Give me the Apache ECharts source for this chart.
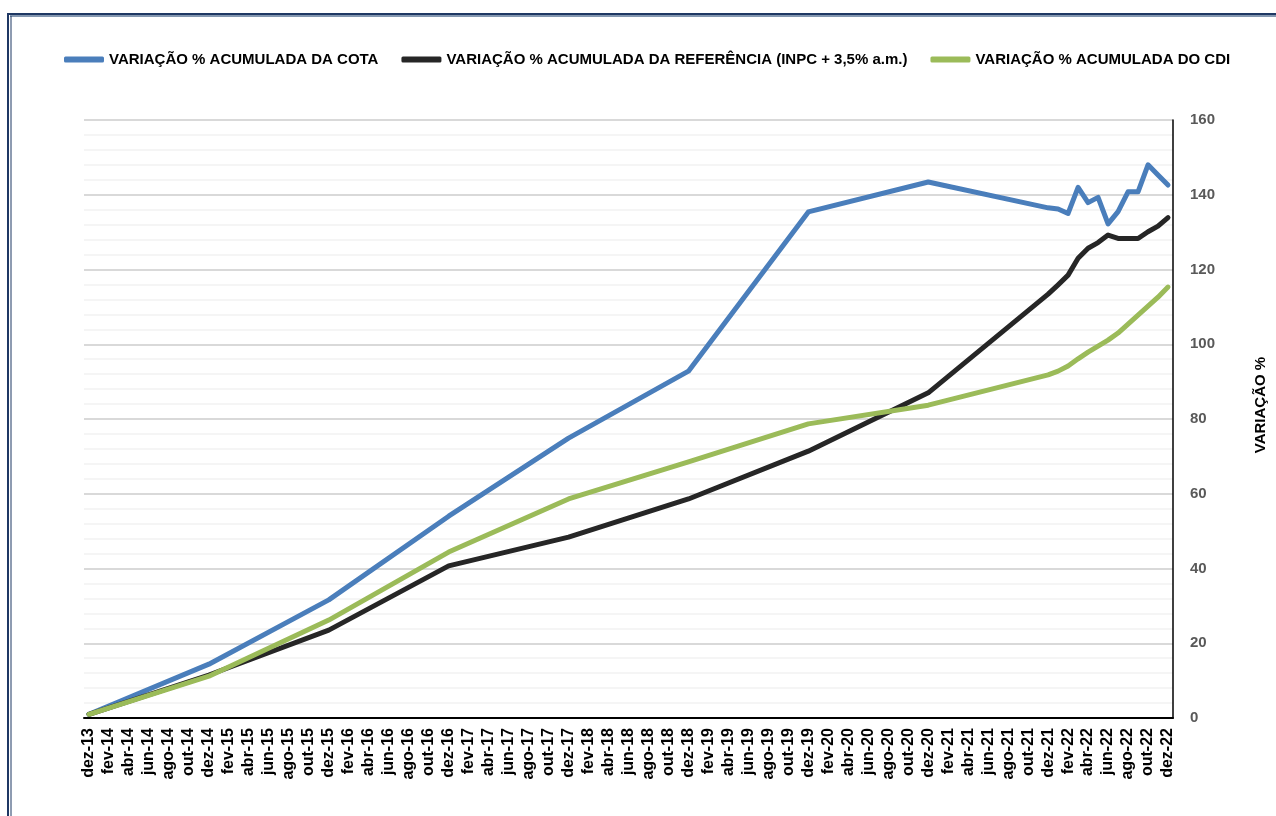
<!DOCTYPE html>
<html>
<head>
<meta charset="utf-8">
<script src="https://cdn.jsdelivr.net/npm/echarts@6/dist/echarts.min.js"></script>
<style>
  html, body { margin: 0; padding: 0; background: #fff; }
  #grafico { width: 1276px; height: 816px; }
</style>
</head>
<body>
<div id="grafico"></div>
<script>
// meses do eixo x (dez-13 ... dez-22)
var nomesMeses = ['jan','fev','mar','abr','mai','jun','jul','ago','set','out','nov','dez'];
var categorias = ['dez-13'];
for (var ano = 14; ano <= 22; ano++) {
  for (var m = 0; m < 12; m++) {
    categorias.push(nomesMeses[m] + '-' + ano);
  }
}

// pontos anuais (dezembro)
var mesesAnuais = ['dez-13','dez-14','dez-15','dez-16','dez-17','dez-18','dez-19','dez-20','dez-21'];
var cotaAnual   = [1.0, 14.4, 31.6, 54.0, 74.9, 92.8, 135.4, 143.4, 136.5];
var refAnual    = [1.0, 11.5, 23.5, 40.7, 48.4, 58.6, 71.4, 87.0, 113.4];
var cdiAnual    = [1.0, 11.2, 26.2, 44.4, 58.6, 68.5, 78.7, 83.7, 91.8];

// pontos mensais de 2022
var meses2022 = ['jan-22','fev-22','mar-22','abr-22','mai-22','jun-22','jul-22','ago-22','set-22','out-22','nov-22','dez-22'];
var cota2022  = [136.2, 135.0, 142.0, 137.9, 139.3, 132.2, 135.5, 140.8, 140.8, 148.0, 145.3, 142.6];
var ref2022   = [115.9, 118.5, 123.0, 125.7, 127.2, 129.2, 128.3, 128.3, 128.3, 130.1, 131.6, 133.9];
var cdi2022   = [92.8, 94.2, 96.1, 97.9, 99.5, 101.1, 103.0, 105.4, 107.8, 110.2, 112.6, 115.3];

var nomesSeries = [
  'VARIAÇÃO % ACUMULADA DA COTA',
  'VARIAÇÃO % ACUMULADA DA REFERÊNCIA (INPC + 3,5% a.m.)',
  'VARIAÇÃO % ACUMULADA DO CDI'
];
var cores = ['#4a7ebb', '#262626', '#9bbb59'];

function montarPontos(anual, mensal) {
  var pontos = [];
  for (var i = 0; i < mesesAnuais.length; i++) pontos.push([mesesAnuais[i], anual[i]]);
  for (var j = 0; j < meses2022.length; j++) pontos.push([meses2022[j], mensal[j]]);
  return pontos;
}

function serieLinha(nome, cor, dados) {
  return {
    name: nome,
    type: 'line',
    data: dados,
    showSymbol: false,
    symbol: 'none',
    lineStyle: { color: cor, width: 5, cap: 'round', join: 'round' },
    itemStyle: { color: cor }
  };
}

var fonte = '"Liberation Sans", Arial, sans-serif';
var myChart = echarts.init(document.getElementById('grafico'));
myChart.setOption({
  animation: false,
  textStyle: { fontFamily: fonte },
  graphic: [
    { type: 'line', shape: { x1: 8, y1: 14, x2: 1276, y2: 14 }, style: { stroke: '#1f3864', lineWidth: 2 } },
    { type: 'line', shape: { x1: 10, y1: 16, x2: 1276, y2: 16 }, style: { stroke: '#8497b0', lineWidth: 2 } },
    { type: 'line', shape: { x1: 8, y1: 13, x2: 8, y2: 816 }, style: { stroke: '#1f3864', lineWidth: 2 } },
    { type: 'line', shape: { x1: 11, y1: 16, x2: 11, y2: 816 }, style: { stroke: '#1f3864', lineWidth: 1 } }
  ],
  legend: {
    top: 47,
    left: 59,
    itemWidth: 40,
    itemHeight: 6,
    itemGap: 23,
    icon: 'roundRect',
    textStyle: { fontSize: 15, fontWeight: 'bold', color: '#000', fontFamily: fonte },
    data: nomesSeries
  },
  grid: { left: 84, right: 101, top: 120, bottom: 98 },
  xAxis: {
    type: 'category',
    data: categorias,
    boundaryGap: true,
    axisLine: { lineStyle: { color: '#000', width: 2 } },
    axisTick: { interval: 1, length: 6, lineStyle: { color: '#000', width: 1.5 } },
    axisLabel: {
      interval: 1,
      rotate: 90,
      margin: 10,
      fontSize: 16,
      fontWeight: 'bold',
      color: '#000',
      fontFamily: fonte
    },
    splitLine: { show: false }
  },
  yAxis: {
    type: 'value',
    position: 'right',
    min: 0,
    max: 160,
    interval: 20,
    name: 'VARIAÇÃO %',
    nameLocation: 'middle',
    nameRotate: 90,
    nameGap: 80,
    nameTextStyle: { fontSize: 15, fontWeight: 'bold', color: '#000', fontFamily: fonte, padding: [0, 0, 0, 28] },
    axisLine: { show: true, lineStyle: { color: '#000', width: 1.5 } },
    axisTick: { show: false },
    axisLabel: { margin: 17, fontSize: 15, fontWeight: 'bold', color: '#595959', fontFamily: fonte },
    minorTick: { show: false, splitNumber: 5 },
    splitLine: { lineStyle: { color: '#d9d9d9', width: 2 } },
    minorSplitLine: { show: true, lineStyle: { color: '#f2f2f2', width: 1.5 } }
  },
  series: [
    serieLinha(nomesSeries[0], cores[0], montarPontos(cotaAnual, cota2022)),
    serieLinha(nomesSeries[1], cores[1], montarPontos(refAnual, ref2022)),
    serieLinha(nomesSeries[2], cores[2], montarPontos(cdiAnual, cdi2022))
  ]
});
</script>
</body>
</html>
